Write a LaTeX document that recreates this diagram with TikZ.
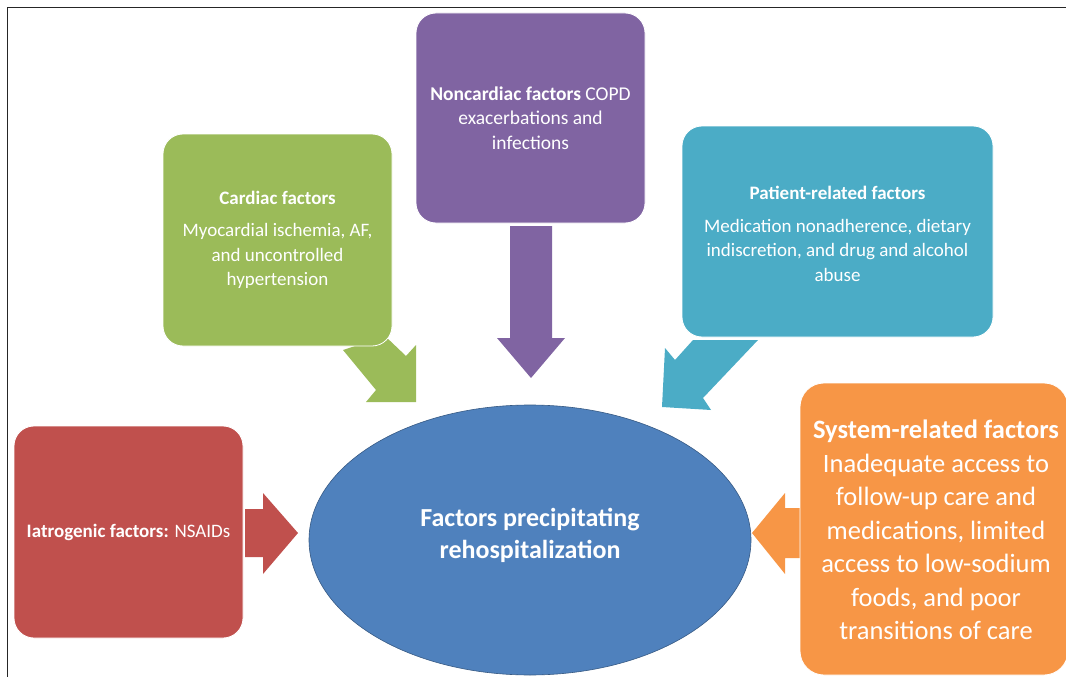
\documentclass[tikz,border=0pt]{standalone}
\usepackage{fontspec}
\setmainfont{Carlito}
\usetikzlibrary{shapes.geometric}
\definecolor{cgreen}{HTML}{9BBB59}
\definecolor{cpurple}{HTML}{8064A2}
\definecolor{cteal}{HTML}{4BACC6}
\definecolor{cred}{HTML}{C0504D}
\definecolor{corange}{HTML}{F79646}
\definecolor{cblue}{HTML}{4F81BD}
\tikzset{
  fbox/.style={draw=white, line width=0.8pt, rounded corners=20pt, inner sep=0pt},
  textnode/.style={text=white, align=center, inner sep=0pt},
  smalltext/.style={textnode, font=\fontsize{19}{24.5}\selectfont}
}
\begin{document}
\begin{tikzpicture}[x=1pt,y=-1pt]
\useasboundingbox (0,0) rectangle (1066,677);
% frame
\draw[line width=1pt, black!85] (7.5,677) -- (7.5,7.5) -- (1066,7.5);

% block arrows (drawn first, behind the boxes)
\fill[cgreen] (343,350) -- (376,390) -- (366,402) -- (416,402) -- (416,345) -- (406,356) -- (385,336) -- cycle;
\fill[cpurple] (510,226) -- (552,226) -- (552,338) -- (565,338) -- (531,378) -- (497,338) -- (510,338) -- cycle;
\fill[cteal] (693,340) -- (758,340) -- (703,398) -- (711,410) -- (662,407) -- (665,348) -- (675,360) -- cycle;
\fill[cred] (245,509) -- (263,509) -- (263,493) -- (298,533) -- (263,574) -- (263,557) -- (245,557) -- cycle;
\fill[corange] (802,508) -- (785,508) -- (785,493) -- (752,533) -- (785,574) -- (785,558) -- (802,558) -- cycle;

% boxes
\node[fbox, fill=cgreen, minimum width=229pt, minimum height=212pt] (card) at (277.5,240) {};
\node[smalltext] (cardt) at (card.center) {\textbf{Cardiac factors}\\[8pt]Myocardial ischemia, AF,\\and uncontrolled\\hypertension};

\node[fbox, fill=cpurple, minimum width=229pt, minimum height=210pt] (nonc) at (530.5,118) {};
\node[textnode, font=\fontsize{19.5}{24.5}\selectfont] (nonct) at (nonc.center) {\textbf{Noncardiac factors} COPD\\exacerbations and\\infections};

\node[fbox, fill=cteal, minimum width=311pt, minimum height=211pt] (pat) at (837.5,231.5) {};
\node[smalltext] (patt) at (837.5,234) {\textbf{Patient-related factors}\\[8pt]Medication nonadherence, dietary\\indiscretion, and drug and alcohol\\abuse};

\node[fbox, fill=cred, minimum width=229pt, minimum height=212pt] (iat) at (128.5,532) {};
\node[smalltext] (iatt) at (iat.center) {\textbf{Iatrogenic factors:} NSAIDs};

\node[fbox, fill=corange, rounded corners=24pt, minimum width=268pt, minimum height=292pt] (sys) at (934,529) {};
\node[textnode, font=\fontsize{26.5}{33.5}\selectfont] (syst) at (936,530) {\textbf{System-related factors}\\Inadequate access to\\follow-up care and\\medications, limited\\access to low-sodium\\foods, and poor\\transitions of care};

% central ellipse
\node[ellipse, fill=cblue, draw=cblue!70!black, line width=0.6pt, minimum width=442pt, minimum height=270pt, inner sep=0pt] (ctr) at (530,540) {};
\node[textnode, font=\bfseries\fontsize{26}{32}\selectfont] (ctrt) at (530,535) {Factors precipitating\\rehospitalization};
\end{tikzpicture}
\end{document}
